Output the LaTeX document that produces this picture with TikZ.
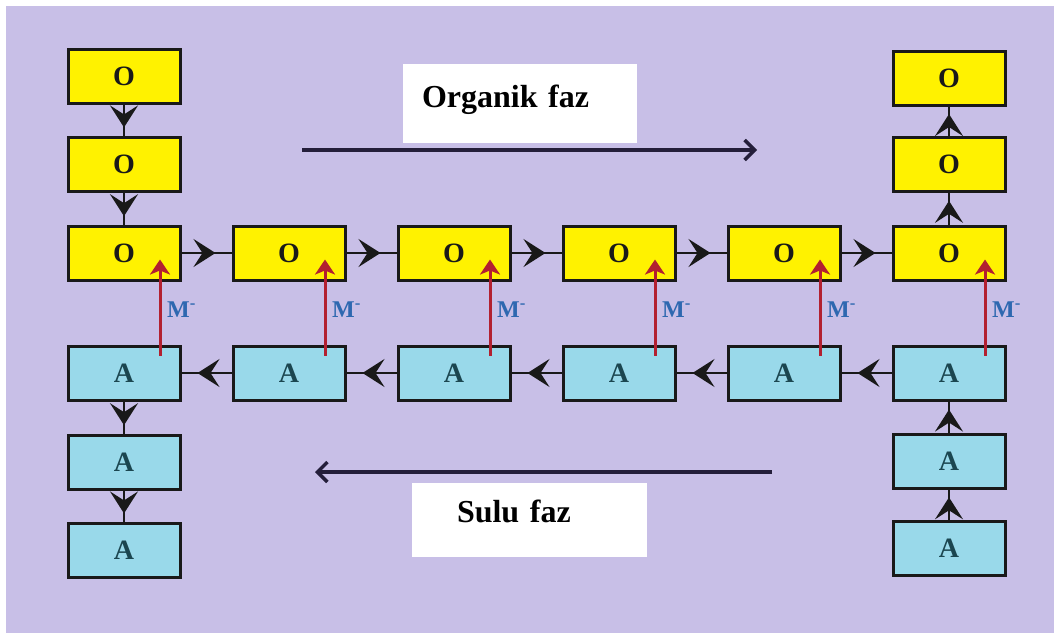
\documentclass[tikz,border=0pt]{standalone}
\usepackage{fontspec}
\setmainfont{Liberation Serif}
\usetikzlibrary{arrows.meta,decorations.markings,calc}

\definecolor{lavender}{RGB}{200,191,231}
\definecolor{orgyellow}{RGB}{255,242,0}
\definecolor{aqblue}{RGB}{153,217,234}
\definecolor{mred}{RGB}{178,32,48}
\definecolor{mblue}{RGB}{46,104,176}
\definecolor{darkline}{RGB}{36,30,58}
\definecolor{ateal}{RGB}{27,70,80}

\begin{document}
\begin{tikzpicture}[x=1pt,y=-1pt,
    cell/.style={draw=black!90, line width=3pt, minimum width=112pt, minimum height=54pt, inner sep=0pt, font=\fontsize{28}{28}\selectfont\bfseries},
    ocell/.style={cell, fill=orgyellow, text=black!90},
    acell/.style={cell, fill=aqblue, text=ateal},
    link/.style={draw=black!90, line width=2.5pt, postaction={decorate},
        decoration={markings, mark=at position #1 with {\arrow{Stealth[length=22pt,width=28pt,inset=9pt]}}}},
    link/.default=0.68,
    mact/.style={draw=mred, line width=3pt, -{Stealth[length=15pt,width=20pt,inset=4pt]}},
    mlabel/.style={text=mblue, font=\fontsize{24}{24}\selectfont\bfseries, inner sep=0pt},
    phasebox/.style={fill=white, inner ysep=0pt, align=left, font=\fontsize{32}{32}\selectfont\bfseries},
    phase/.style={draw=darkline, line width=3.5pt, -{Straight Barb[length=10pt,width=20pt]}}]

  \fill[white] (0,0) rectangle (1062,635);
  \fill[lavender] (6,6) rectangle (1054,633);

  % phases
  \node[phasebox, text width=196pt, inner xsep=19pt, text height=43pt, text depth=36pt] (orgbox) at (520,103.5) {Organik faz};
  \node[phasebox, text width=145pt, inner xsep=45pt, text height=39pt, text depth=35pt] (sulbox) at (529.5,520) {Sulu faz};
  \coordinate (orgfrom) at (302,150);
  \coordinate (orgto) at (757,150);
  \coordinate (sulfrom) at (772,472);
  \coordinate (sulto) at (315,472);
  \draw[phase] (orgfrom) -- (orgto);
  \draw[phase] (sulfrom) -- (sulto);

  % rows
  \foreach \k in {0,...,5} {
    \node[ocell] (o\k) at (124+165*\k,253) {O};
    \node[acell] (a\k) at (124+165*\k,373) {A};
  }
  \node[ocell] (ol1) at (124,164) {O};
  \node[ocell] (ol2) at (124,76) {O};
  \node[ocell] (or1) at (949,164) {O};
  \node[ocell] (or2) at (949,78) {O};
  \node[acell] (al1) at (124,462) {A};
  \node[acell] (al2) at (124,550) {A};
  \node[acell] (ar1) at (949,461) {A};
  \node[acell] (ar2) at (949,548) {A};

  \foreach \k [count=\n] in {0,...,4} {
    \draw[link] (o\k) -- (o\n);
    \draw[link] (a\n) -- (a\k);
  }
  \draw[link=0.74] (ol2) -- (ol1);
  \draw[link=0.74] (ol1) -- (o0);
  \draw[link=0.74] (o5) -- (or1);
  \draw[link=0.74] (or1) -- (or2);
  \draw[link=0.74] (a0) -- (al1);
  \draw[link=0.74] (al1) -- (al2);
  \draw[link=0.74] (ar2) -- (ar1);
  \draw[link=0.74] (ar1) -- (a5);

  % transfer
  \foreach \k in {0,...,5} {
    \draw[mact] ([xshift=36pt,yshift=-11pt]a\k.north) -- ([xshift=36pt,yshift=22pt]o\k.south);
    \node[mlabel, anchor=west] (m\k) at ($(a\k.north)!0.5!(o\k.south)+(43,-3)$) {M\textsuperscript{-}};
  }
\end{tikzpicture}
\end{document}
